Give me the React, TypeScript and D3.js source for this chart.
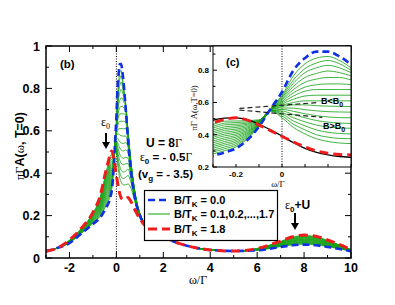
import React from "react";
import * as d3 from "d3";

// field values: B/T_K = 0.0 (blue), 0.1..1.7 (green), 1.8 (red)
const greenB = [0.1, 0.2, 0.3, 0.4, 0.5, 0.6, 0.7, 0.8, 0.9, 1.0, 1.1, 1.2, 1.3, 1.4, 1.5, 1.6, 1.7];

// shared tails (all curves lie on top of each other there)
const tailOmega = [-3, -2.5];
const tailValues = [0.032, 0.048];
const midOmega = [2.5, 3, 4, 5];
const midValues = [0.075, 0.058, 0.038, 0.033];

// Kondo region, one row per curve
const kondoOmega = [-2, -1.5, -1, -0.7, -0.45, -0.3, -0.25, -0.2, -0.1, -0.05, 0, 0.05, 0.1, 0.15, 0.2, 0.25, 0.3, 0.4, 0.5, 0.6, 0.8, 1.0, 1.5, 2];
const kondoBlue = [0.07, 0.115, 0.16, 0.19, 0.235, 0.27, 0.29, 0.315, 0.45, 0.56, 0.665, 0.8, 0.875, 0.915, 0.915, 0.885, 0.835, 0.7, 0.55, 0.43, 0.28, 0.2, 0.13, 0.098];
const kondoRed = [0.085, 0.14, 0.215, 0.29, 0.41, 0.475, 0.495, 0.505, 0.46, 0.425, 0.39, 0.355, 0.325, 0.3, 0.285, 0.277, 0.275, 0.28, 0.285, 0.27, 0.225, 0.185, 0.125, 0.102];
const kondoGreen = [
  [0.071, 0.116, 0.163, 0.196, 0.245, 0.281, 0.301, 0.325, 0.452, 0.559, 0.645, 0.765, 0.84, 0.875, 0.885, 0.86, 0.815, 0.71, 0.565, 0.445, 0.29, 0.205, 0.13, 0.098],
  [0.072, 0.118, 0.166, 0.201, 0.254, 0.293, 0.313, 0.335, 0.455, 0.558, 0.638, 0.74, 0.81, 0.845, 0.86, 0.84, 0.8, 0.72, 0.58, 0.455, 0.295, 0.205, 0.13, 0.098],
  [0.073, 0.119, 0.169, 0.207, 0.264, 0.304, 0.324, 0.345, 0.457, 0.558, 0.63, 0.72, 0.785, 0.815, 0.83, 0.815, 0.785, 0.725, 0.59, 0.465, 0.3, 0.21, 0.131, 0.099],
  [0.074, 0.121, 0.172, 0.212, 0.274, 0.316, 0.336, 0.355, 0.46, 0.557, 0.622, 0.7, 0.755, 0.78, 0.795, 0.785, 0.765, 0.72, 0.595, 0.47, 0.3, 0.21, 0.131, 0.099],
  [0.074, 0.122, 0.175, 0.218, 0.284, 0.327, 0.347, 0.365, 0.462, 0.557, 0.614, 0.68, 0.725, 0.745, 0.755, 0.755, 0.74, 0.71, 0.595, 0.475, 0.305, 0.21, 0.132, 0.1],
  [0.075, 0.123, 0.178, 0.223, 0.293, 0.338, 0.358, 0.375, 0.465, 0.556, 0.606, 0.66, 0.695, 0.71, 0.715, 0.715, 0.71, 0.69, 0.59, 0.475, 0.305, 0.21, 0.132, 0.1],
  [0.076, 0.125, 0.181, 0.229, 0.303, 0.35, 0.37, 0.385, 0.467, 0.556, 0.598, 0.64, 0.67, 0.68, 0.68, 0.68, 0.68, 0.675, 0.58, 0.47, 0.305, 0.21, 0.132, 0.1],
  [0.077, 0.126, 0.184, 0.234, 0.313, 0.361, 0.381, 0.395, 0.47, 0.555, 0.59, 0.62, 0.64, 0.645, 0.645, 0.645, 0.645, 0.64, 0.57, 0.465, 0.3, 0.21, 0.132, 0.1],
  [0.077, 0.128, 0.188, 0.24, 0.323, 0.373, 0.393, 0.405, 0.472, 0.555, 0.582, 0.6, 0.61, 0.61, 0.61, 0.61, 0.61, 0.61, 0.555, 0.46, 0.3, 0.21, 0.132, 0.1],
  [0.078, 0.129, 0.191, 0.246, 0.332, 0.384, 0.404, 0.415, 0.475, 0.554, 0.574, 0.585, 0.585, 0.58, 0.577, 0.576, 0.575, 0.575, 0.54, 0.45, 0.295, 0.205, 0.132, 0.1],
  [0.079, 0.13, 0.194, 0.251, 0.342, 0.395, 0.415, 0.425, 0.477, 0.553, 0.566, 0.565, 0.555, 0.548, 0.543, 0.541, 0.54, 0.545, 0.52, 0.44, 0.29, 0.205, 0.131, 0.1],
  [0.08, 0.132, 0.197, 0.257, 0.352, 0.407, 0.427, 0.435, 0.48, 0.552, 0.557, 0.545, 0.53, 0.518, 0.51, 0.506, 0.505, 0.51, 0.495, 0.43, 0.285, 0.2, 0.131, 0.1],
  [0.081, 0.133, 0.2, 0.262, 0.361, 0.418, 0.438, 0.445, 0.482, 0.551, 0.548, 0.525, 0.505, 0.488, 0.478, 0.473, 0.47, 0.475, 0.47, 0.415, 0.28, 0.2, 0.13, 0.1],
  [0.082, 0.134, 0.203, 0.268, 0.371, 0.429, 0.449, 0.455, 0.485, 0.55, 0.538, 0.505, 0.48, 0.46, 0.448, 0.442, 0.44, 0.445, 0.445, 0.4, 0.275, 0.2, 0.13, 0.1],
  [0.082, 0.136, 0.206, 0.273, 0.381, 0.441, 0.461, 0.465, 0.487, 0.549, 0.528, 0.485, 0.455, 0.43, 0.415, 0.408, 0.405, 0.41, 0.42, 0.385, 0.27, 0.195, 0.13, 0.1],
  [0.083, 0.137, 0.209, 0.279, 0.391, 0.452, 0.472, 0.475, 0.49, 0.548, 0.517, 0.465, 0.43, 0.4, 0.385, 0.377, 0.375, 0.38, 0.39, 0.365, 0.265, 0.195, 0.129, 0.101],
  [0.084, 0.139, 0.212, 0.284, 0.4, 0.464, 0.484, 0.485, 0.492, 0.547, 0.505, 0.445, 0.405, 0.375, 0.358, 0.349, 0.345, 0.345, 0.35, 0.335, 0.26, 0.19, 0.128, 0.101],
];

// upper Hubbard peak region
const hubOmega = [6, 7, 7.5, 8, 8.5, 9, 10];
const hubBlue = [0.036, 0.052, 0.06, 0.063, 0.06, 0.052, 0.032];
const hubRed = [0.045, 0.08, 0.1, 0.108, 0.103, 0.085, 0.04];
const hubGreen = [
  [0.037, 0.054, 0.062, 0.065, 0.062, 0.054, 0.032],
  [0.037, 0.055, 0.064, 0.068, 0.065, 0.056, 0.033],
  [0.038, 0.057, 0.067, 0.071, 0.067, 0.058, 0.033],
  [0.038, 0.058, 0.069, 0.073, 0.07, 0.059, 0.034],
  [0.039, 0.06, 0.071, 0.076, 0.072, 0.061, 0.034],
  [0.039, 0.061, 0.073, 0.078, 0.074, 0.063, 0.035],
  [0.04, 0.063, 0.076, 0.081, 0.077, 0.065, 0.035],
  [0.04, 0.064, 0.078, 0.083, 0.079, 0.067, 0.036],
  [0.041, 0.066, 0.08, 0.086, 0.082, 0.069, 0.036],
  [0.041, 0.068, 0.082, 0.088, 0.084, 0.07, 0.036],
  [0.042, 0.069, 0.084, 0.09, 0.086, 0.072, 0.037],
  [0.042, 0.071, 0.087, 0.093, 0.089, 0.074, 0.037],
  [0.043, 0.072, 0.089, 0.096, 0.091, 0.076, 0.038],
  [0.043, 0.074, 0.091, 0.098, 0.093, 0.078, 0.038],
  [0.044, 0.075, 0.093, 0.101, 0.096, 0.08, 0.039],
  [0.044, 0.077, 0.096, 0.103, 0.098, 0.081, 0.039],
  [0.045, 0.078, 0.098, 0.106, 0.101, 0.083, 0.04],
];

// black solid curve seen only in the inset
const blackOmega = [-0.35, -0.3, -0.25, -0.2, -0.15, -0.1, -0.05, 0, 0.05, 0.1, 0.15, 0.2, 0.25, 0.3, 0.35];
const blackValues = [0.47, 0.49, 0.503, 0.505, 0.493, 0.465, 0.43, 0.392, 0.35, 0.315, 0.29, 0.275, 0.265, 0.26, 0.257];

// dashed guide lines in the inset: [omega, value] end points
const guideBelow: [number, number][] = [[-0.185, 0.563], [0.16, 0.6]];
const guideAbove: [number, number][] = [[-0.185, 0.553], [0.175, 0.508]];

const mainXTicks = [-2, 0, 2, 4, 6, 8, 10];
const mainYTicks = [0, 0.2, 0.4, 0.6, 0.8, 1];
const insetXTicks = [-0.2, 0];
const insetYTicks = [0.2, 0.4, 0.6, 0.8];

const BLUE = "#1030e8";
const RED = "#f01c1c";
const GREEN = "#11a011";
const SANS = "Liberation Sans, Arial, sans-serif";
const SERIF = "Liberation Serif, Times New Roman, serif";

type Pt = [number, number];

function buildSeries(k: number[], h: number[]): Pt[] {
  const pts: Pt[] = [];
  tailOmega.forEach((w, i) => pts.push([w, tailValues[i]]));
  kondoOmega.forEach((w, i) => pts.push([w, k[i]]));
  midOmega.forEach((w, i) => pts.push([w, midValues[i]]));
  hubOmega.forEach((w, i) => pts.push([w, h[i]]));
  return pts;
}

const blueSeries = buildSeries(kondoBlue, hubBlue);
const redSeries = buildSeries(kondoRed, hubRed);
const greenSeries = greenB.map((_, i) => buildSeries(kondoGreen[i], hubGreen[i]));
const blackSeries: Pt[] = blackOmega.map((w, i) => [w, blackValues[i]]);

// main panel frame
const M = { l: 46, r: 351, t: 46, b: 258 };
// inset frame
const I = { l: 213, r: 351, t: 46, b: 167 };

const x = d3.scaleLinear().domain([-3, 10]).range([M.l, M.r]);
const y = d3.scaleLinear().domain([0, 1]).range([M.b, M.t]);
const xi = d3.scaleLinear().domain([-0.3, 0.3]).range([I.l, I.r]);
const yi = d3.scaleLinear().domain([0.2, 0.95]).range([I.b, I.t]);

function Arrow({ cx, y1, y2 }: { cx: number; y1: number; y2: number }) {
  return (
    <g>
      <line x1={cx} x2={cx} y1={y1} y2={y2 - 5} stroke="#000" strokeWidth={2} />
      <path d={`M${cx - 4},${y2 - 7} L${cx + 4},${y2 - 7} L${cx},${y2} Z`} fill="#000" />
    </g>
  );
}

export default function App() {
  const line = d3
    .line<Pt>()
    .x((d) => x(d[0]))
    .y((d) => y(d[1]))
    .curve(d3.curveMonotoneX);
  const lineI = d3
    .line<Pt>()
    .x((d) => xi(d[0]))
    .y((d) => yi(d[1]))
    .curve(d3.curveMonotoneX);

  const xMinor = d3.range(-3, 10.01, 1);
  const yMinor = d3.range(0, 1.001, 0.1);
  const xiMinor = d3.range(-0.3, 0.301, 0.1);
  const yiMinor = d3.range(0.2, 0.951, 0.1);

  return (
    <svg width={395} height={305} style={{ position: "absolute", left: 0, top: 0, background: "#fff" }}>
      <defs>
        <clipPath id="mainClip">
          <rect x={M.l} y={M.t} width={M.r - M.l} height={M.b - M.t} />
        </clipPath>
        <clipPath id="insetClip">
          <rect x={I.l} y={I.t} width={I.r - I.l} height={I.b - I.t} />
        </clipPath>
      </defs>

      {/* main curves */}
      <g clipPath="url(#mainClip)" fill="none">
        <line x1={x(0)} x2={x(0)} y1={M.t} y2={M.b} stroke="#000" strokeWidth={1} strokeDasharray="1,1.5" />
        {greenSeries.map((s, i) => (
          <path key={i} d={line(s) || ""} stroke={GREEN} strokeWidth={0.8} />
        ))}
        <path d={line(blueSeries) || ""} stroke={BLUE} strokeWidth={2.6} strokeDasharray="7,4" />
        <path d={line(redSeries) || ""} stroke={RED} strokeWidth={3} strokeDasharray="9,5" />
      </g>

      {/* main ticks */}
      <g stroke="#000" strokeWidth={1}>
        {xMinor.map((t) => {
          const len = mainXTicks.includes(t) ? 6 : 3;
          return (
            <g key={"x" + t}>
              <line x1={x(t)} x2={x(t)} y1={M.b} y2={M.b - len} />
              <line x1={x(t)} x2={x(t)} y1={M.t} y2={M.t + len} />
            </g>
          );
        })}
        {yMinor.map((t, i) => {
          const len = i % 2 === 0 ? 6 : 3;
          return (
            <g key={"y" + i}>
              <line x1={M.l} x2={M.l + len} y1={y(t)} y2={y(t)} />
              <line x1={M.r} x2={M.r - len} y1={y(t)} y2={y(t)} />
            </g>
          );
        })}
      </g>
      <rect x={M.l} y={M.t} width={M.r - M.l} height={M.b - M.t} fill="none" stroke="#000" strokeWidth={1.5} />

      <g fontFamily={SANS} fontWeight="bold" fontSize={12.5}>
        {mainXTicks.map((t) => (
          <text key={t} x={x(t)} y={272} textAnchor="middle">
            {t < 0 ? "-" + Math.abs(t) : t}
          </text>
        ))}
        {mainYTicks.map((t) => (
          <text key={t} x={40} y={y(t) + 4.5} textAnchor="end">
            {t === 0 || t === 1 ? String(t) : t.toFixed(1)}
          </text>
        ))}
      </g>

      <text x={198} y={284} fontFamily={SERIF} fontSize={12} textAnchor="middle">
        ω/Γ
      </text>
      <text
        transform="translate(24,146) rotate(-90)"
        fontFamily={SANS}
        fontWeight="bold"
        fontSize={12.5}
        textAnchor="middle"
      >
        <tspan fontFamily={SERIF} fontWeight="normal">πΓ</tspan>
        <tspan>A(</tspan>
        <tspan fontFamily={SERIF} fontWeight="normal">ω</tspan>
        <tspan>, T=0)</tspan>
      </text>

      {/* annotations */}
      <g fontFamily={SANS} fontWeight="bold" fontSize={11.5}>
        <text x={60} y={68}>(b)</text>
        <text x={101} y={126} fontFamily={SERIF} fontWeight="normal" fontSize={12}>
          ε<tspan fontSize={8} dy={3}>0</tspan>
        </text>
        <text x={146} y={147} fontSize={12}>
          U = 8<tspan fontFamily={SERIF} fontWeight="normal">Γ</tspan>
        </text>
        <text x={140} y={161} fontSize={11.5}>
          <tspan fontFamily={SERIF} fontWeight="normal">ε</tspan>
          <tspan fontSize={8} dy={3}>0</tspan>
          <tspan dy={-3}> = - 0.5</tspan>
          <tspan fontFamily={SERIF} fontWeight="normal">Γ</tspan>
        </text>
        <text x={138} y={178} fontSize={11.5}>
          (v<tspan fontSize={8} dy={3}>g</tspan>
          <tspan dy={-3}> = - 3.5)</tspan>
        </text>
        <text x={285} y={209} fontSize={12}>
          <tspan fontFamily={SERIF} fontWeight="normal">ε</tspan>
          <tspan fontSize={8} dy={3}>0</tspan>
          <tspan dy={-3}>+U</tspan>
        </text>
      </g>
      <Arrow cx={106} y1={133} y2={149} />
      <Arrow cx={295} y1={213} y2={230} />

      {/* legend */}
      <g>
        <rect x={144.5} y={190.5} width={133} height={50} fill="#fff" stroke="#000" strokeWidth={1.2} />
        <line x1={148} x2={170} y1={200} y2={200} stroke={BLUE} strokeWidth={2.6} strokeDasharray="7,4" />
        <line x1={148} x2={170} y1={214} y2={214} stroke={GREEN} strokeWidth={1} />
        <line x1={148} x2={170} y1={229} y2={229} stroke={RED} strokeWidth={3} strokeDasharray="9,5" />
        <g fontFamily={SANS} fontWeight="bold" fontSize={11}>
          {[
            { yy: 204, label: " = 0.0" },
            { yy: 218, label: " = 0.1,0.2,...,1.7" },
            { yy: 233, label: " = 1.8" },
          ].map((e) => (
            <text key={e.yy} x={174} y={e.yy}>
              B/T<tspan fontSize={8} dy={2.5}>K</tspan>
              <tspan dy={-2.5}>{e.label}</tspan>
            </text>
          ))}
        </g>
      </g>

      {/* inset */}
      <rect x={I.l} y={I.t} width={I.r - I.l} height={I.b - I.t} fill="#fff" />
      <g clipPath="url(#insetClip)" fill="none">
        <line x1={xi(0)} x2={xi(0)} y1={I.t} y2={I.b} stroke="#000" strokeWidth={1} strokeDasharray="1,1.5" />
        {greenSeries.map((s, i) => (
          <path key={i} d={lineI(s) || ""} stroke={GREEN} strokeWidth={0.8} />
        ))}
        <path d={lineI(blackSeries) || ""} stroke="#000" strokeWidth={1.3} />
        <path d={lineI(blueSeries) || ""} stroke={BLUE} strokeWidth={2.6} strokeDasharray="7,4" />
        <path d={lineI(redSeries) || ""} stroke={RED} strokeWidth={3} strokeDasharray="9,5" />
        <path d={lineI(guideBelow) || ""} stroke="#222" strokeWidth={1.2} strokeDasharray="5,3" />
        <path d={lineI(guideAbove) || ""} stroke="#222" strokeWidth={1.2} strokeDasharray="5,3" />
      </g>
      <g stroke="#000" strokeWidth={1}>
        {xiMinor.map((t, i) => (
          <line key={"xi" + i} x1={xi(t)} x2={xi(t)} y1={I.b} y2={I.b - 3} />
        ))}
        {yiMinor.map((t, i) => (
          <line key={"yi" + i} x1={I.l} x2={I.l + (i % 2 === 0 ? 4 : 2.5)} y1={yi(t)} y2={yi(t)} />
        ))}
      </g>
      <rect x={I.l} y={I.t} width={I.r - I.l} height={I.b - I.t} fill="none" stroke="#000" strokeWidth={1} />
      <g fontFamily={SANS} fontWeight="bold" fontSize={8}>
        {insetXTicks.map((t) => (
          <text key={t} x={xi(t)} y={177} textAnchor="middle">
            {t === 0 ? "0" : "-" + Math.abs(t).toFixed(1)}
          </text>
        ))}
        {insetYTicks.map((t) => (
          <text key={t} x={209} y={yi(t) + 3} textAnchor="end">
            {t.toFixed(1)}
          </text>
        ))}
        <text x={226} y={66} fontSize={11}>(c)</text>
        <text x={321} y={104} fontSize={9}>
          B&lt;B<tspan fontSize={7} dy={2.5}>0</tspan>
        </text>
        <text x={323} y={129} fontSize={9}>
          B&gt;B<tspan fontSize={7} dy={2.5}>0</tspan>
        </text>
      </g>
      <text x={278} y={187} fontFamily={SERIF} fontSize={9} textAnchor="middle">
        ω/Γ
      </text>
      <text transform="translate(197,108) rotate(-90)" fontFamily={SERIF} fontSize={8.5} textAnchor="middle">
        πΓ A(ω,T=0)
      </text>
    </svg>
  );
}
